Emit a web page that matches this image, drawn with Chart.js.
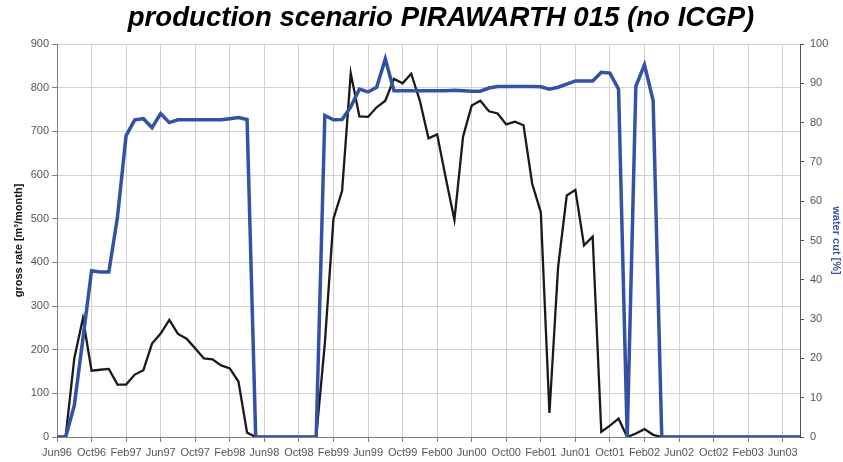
<!DOCTYPE html>
<html>
<head>
<meta charset="utf-8">
<script src="https://cdn.jsdelivr.net/npm/chart.js@4.4.1/dist/chart.umd.min.js"></script>
<style>
    html, body { margin: 0; padding: 0; background: white; }
    #wrap { width: 843px; height: 462px; }
</style>
</head>
<body>
<div id="wrap"><canvas id="chart" width="843" height="462"></canvas></div>
<script>
// DATA

const months = [
    "Jun96", "Jul96", "Aug96", "Sep96", "Oct96", "Nov96", "Dec96",
    "Jan97", "Feb97", "Mar97", "Apr97", "May97", "Jun97", "Jul97", "Aug97", "Sep97", "Oct97", "Nov97", "Dec97",
    "Jan98", "Feb98", "Mar98", "Apr98", "May98", "Jun98", "Jul98", "Aug98", "Sep98", "Oct98", "Nov98", "Dec98",
    "Jan99", "Feb99", "Mar99", "Apr99", "May99", "Jun99", "Jul99", "Aug99", "Sep99", "Oct99", "Nov99", "Dec99",
    "Jan00", "Feb00", "Mar00", "Apr00", "May00", "Jun00", "Jul00", "Aug00", "Sep00", "Oct00", "Nov00", "Dec00",
    "Jan01", "Feb01", "Mar01", "Apr01", "May01", "Jun01", "Jul01", "Aug01", "Sep01", "Oct01", "Nov01", "Dec01",
    "Jan02", "Feb02", "Mar02", "Apr02", "May02", "Jun02", "Jul02", "Aug02", "Sep02", "Oct02", "Nov02", "Dec02",
    "Jan03", "Feb03", "Mar03", "Apr03", "May03", "Jun03", "Jul03", "Aug03"
];

// gross rate [m3/month], left axis
const grossRate = [
    0, 0, 180, 272, 152, 154, 156,
    120, 120, 143, 153, 214, 237, 268, 236, 225, 203, 180, 178,
    164, 157, 127, 10, 0, 0, 0, 0, 0, 0, 0, 0,
    214, 500, 564, 833, 734, 733, 755, 770, 820, 810, 832, 770,
    684, 693, 593, 497, 688, 759, 770, 746, 741, 716, 722, 714,
    580, 515, 55, 389, 553, 566, 439, 459, 12, 26, 42, 0,
    8, 18, 5, 0, 0, 0, 0, 0, 0, 0, 0, 0,
    0, 0, 0, 0, 0, 0, 0, 0
];

// water cut [%], right axis
const waterCut = [
    0, 0, 8, 25, 42.3, 42, 42,
    56, 76.7, 80.7, 81, 78.7, 82.3, 80, 80.7, 80.7, 80.7, 80.7, 80.7,
    80.7, 81, 81.3, 80.8, 0, 0, 0, 0, 0, 0, 0, 0,
    81.8, 80.7, 80.8, 84, 88.5, 87.8, 89, 96.2, 88.1, 88.1, 88.1, 88.1,
    88.1, 88.1, 88.1, 88.2, 88.1, 88, 88, 88.8, 89.2, 89.2, 89.2, 89.2,
    89.2, 89.1, 88.5, 89, 89.8, 90.6, 90.6, 90.6, 92.8, 92.6, 88.5, 0,
    89.2, 94.7, 85.6, 0, 0, 0, 0, 0, 0, 0, 0, 0,
    0, 0, 0, 0, 0, 0, 0, 0
];

const labelEvery = 4; // one x label / grid line every 4 months
const chartTitle = "production scenario PIRAWARTH 015 (no ICGP)";

// STYLE

const blue = "#3352a6";
const gridColor = "#d2d2d2";
const axisColor = "#808080";
const fontFamily = "'Liberation Sans', Arial, sans-serif";
const tickFont = { family: fontFamily, size: 11 };

Chart.defaults.font.family = fontFamily;
Chart.defaults.color = "#555";

// title is drawn a bit right of the canvas centre, like the original
const titlePlugin = {
    id: "sheetTitle",
    afterDraw(chart) {
        const ctx = chart.ctx;
        ctx.save();
        ctx.font = "italic bold 27.6px " + fontFamily;
        ctx.fillStyle = "#000";
        ctx.textAlign = "center";
        ctx.textBaseline = "middle";
        ctx.fillText(chartTitle, 441, 18);
        ctx.restore();
    }
};

// CHART

new Chart(document.getElementById("chart"), {
    type: "line",
    plugins: [titlePlugin],
    data: {
        labels: months,
        datasets: [
            {
                label: "water cut",
                data: waterCut,
                yAxisID: "yRight",
                borderColor: blue,
                borderWidth: 3.5,
                pointRadius: 0,
                tension: 0,
                fill: false,
            },
            {
                label: "gross rate",
                data: grossRate,
                yAxisID: "yLeft",
                borderColor: "#1a1a1a",
                borderWidth: 2.3,
                pointRadius: 0,
                tension: 0,
                fill: false,
            }
        ]
    },
    options: {
        responsive: false,
        animation: false,
        events: [],
        layout: {
            padding: { top: 44 },
        },
        scales: {
            x: {
                offset: false,
                afterFit: scale => { scale.height = 25; },
                border: { color: axisColor, width: 1 },
                grid: {
                    color: ctx => ctx.index % labelEvery === 0 ? gridColor : "transparent",
                    tickColor: ctx => ctx.index % labelEvery === 0 ? axisColor : "transparent",
                    tickLength: 5,
                },
                ticks: {
                    autoSkip: false,
                    maxRotation: 0,
                    padding: 4,
                    font: tickFont,
                    color: "#555",
                    callback: (value, index) => index % labelEvery === 0 ? months[index] : "",
                }
            },
            yLeft: {
                position: "left",
                min: 0,
                max: 900,
                afterFit: scale => { scale.width = 57; },
                border: { color: axisColor, width: 1 },
                grid: {
                    color: gridColor,
                    tickColor: axisColor,
                    tickLength: 5,
                },
                ticks: {
                    stepSize: 100,
                    padding: 3,
                    font: tickFont,
                    color: "#555",
                },
                title: {
                    display: true,
                    text: "gross rate [m³/month]",
                    color: "#111",
                    font: { size: 11, weight: "bold" },
                    padding: { top: 12, bottom: 0 },
                }
            },
            yRight: {
                position: "right",
                min: 0,
                max: 100,
                afterFit: scale => { scale.width = 43; },
                border: { color: "#555", width: 1 },
                grid: {
                    drawOnChartArea: false,
                    tickColor: "#555",
                    tickLength: 4,
                },
                ticks: {
                    stepSize: 10,
                    padding: 6,
                    font: tickFont,
                    color: "#555",
                },
                title: {
                    display: true,
                    text: "water cut [%]",
                    color: blue,
                    font: { size: 11, weight: "bold" },
                    padding: { top: 0, bottom: 0 },
                }
            }
        },
        plugins: {
            legend: {
                display: false
            },
            tooltip: {
                enabled: false
            },
            title: {
                display: false
            }
        }
    }
});
</script>
</body>
</html>
